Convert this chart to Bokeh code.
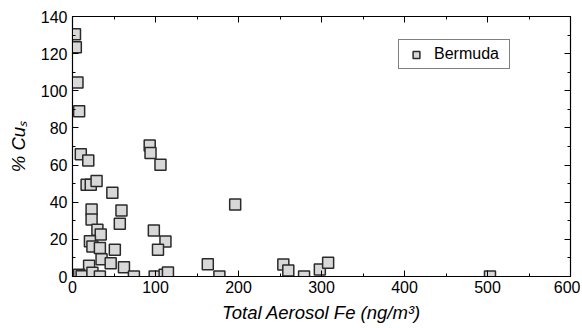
from bokeh.plotting import figure
from bokeh.models import LinearAxis, Range1d, Legend, LegendItem, ColumnDataSource, FixedTicker
from bokeh.embed import file_html
from bokeh.resources import INLINE

fe = [3, 4, 6, 8, 10, 19, 93, 94, 106, 17, 22, 29, 48, 23, 59, 23, 57, 30, 34,
      98, 112, 21, 24, 33, 51, 103, 35, 46, 20, 62, 2, 5, 8, 11, 24, 33, 74,
      99, 111, 115, 196, 163, 177, 254, 260, 279, 298, 308, 503]
cus = [130.5, 123.5, 104.5, 89, 65.8, 62.5, 70.5, 66.5, 60.2, 49.4, 49.4, 51.4,
       45.1, 36.1, 35.6, 30.7, 28.4, 25.2, 22.6, 24.8, 18.9, 19.0, 16.2, 15.3,
       14.4, 14.4, 9.3, 7.2, 5.8, 5.0, 0.3, 0.6, 1.0, 0.2, 2.0, 0.0, 0.0, 0.0,
       1.0, 2.2, 38.8, 6.6, 0.0, 6.5, 3.2, 0.0, 3.8, 7.4, 0.0]
series_name = "Bermuda"
x_ticks = [0, 100, 200, 300, 400, 500, 600]
x_minor = [50, 150, 250, 350, 450, 550]
y_ticks = [0, 20, 40, 60, 80, 100, 120, 140]
y_minor = [10, 30, 50, 70, 90, 110, 130]

FONT = "Liberation Sans"
FS = "16px"
LFS = "18.5px"

p = figure(frame_width=498, frame_height=260, output_backend="svg", toolbar_location=None,
           x_range=Range1d(0, 600), y_range=Range1d(0, 140),
           min_border_left=72, min_border_right=10, min_border_top=16, min_border_bottom=52)
p.background_fill_color = "white"
p.border_fill_color = "white"
p.outline_line_color = "black"
p.outline_line_width = 1.2
p.grid.visible = False

src = ColumnDataSource(dict(x=fe, y=cus))
r = p.scatter("x", "y", source=src, marker="square", size=11,
              fill_color="#d8d8d8", line_color="#2a2a2a", line_width=1.5)

xt = FixedTicker(ticks=x_ticks, minor_ticks=x_minor)
yt = FixedTicker(ticks=y_ticks, minor_ticks=y_minor)
p.xaxis[0].ticker = xt
p.yaxis[0].ticker = yt

for ax in (p.xaxis[0], p.yaxis[0]):
    ax.major_tick_in = 6
    ax.major_tick_out = 0
    ax.minor_tick_in = 3
    ax.minor_tick_out = 0
    ax.axis_line_color = "black"
    ax.major_tick_line_color = "black"
    ax.minor_tick_line_color = "black"
    ax.major_label_text_font = FONT
    ax.major_label_text_font_size = FS
    ax.major_label_text_color = "black"
    ax.axis_label_text_font = FONT
    ax.axis_label_text_font_size = LFS
    ax.axis_label_text_font_style = "italic"
    ax.axis_label_text_color = "black"

p.xaxis.axis_label = "Total Aerosol Fe (ng/m\u00b3)"
p.yaxis.axis_label = "% Cu\u209b"
p.xaxis.major_label_standoff = 4
p.xaxis.axis_label_standoff = 6
p.yaxis.major_label_standoff = 5
p.yaxis.axis_label_standoff = 9

top = LinearAxis(ticker=xt, major_label_text_color=None, major_tick_in=6,
                 major_tick_out=0, minor_tick_in=3, minor_tick_out=0,
                 major_label_standoff=0)
right = LinearAxis(ticker=yt, major_label_text_color=None, major_tick_in=6,
                   major_tick_out=0, minor_tick_in=3, minor_tick_out=0,
                   major_label_standoff=0)
p.add_layout(top, "above")
p.add_layout(right, "right")

legend = Legend(items=[LegendItem(label=series_name, renderers=[r])],
                location=(326, 207), orientation="vertical",
                label_text_font=FONT, label_text_font_size=FS,
                label_text_color="black",
                border_line_color="black", border_line_width=1,
                background_fill_alpha=1, padding=5, margin=0,
                glyph_width=24, glyph_height=17, label_standoff=6,
                label_height=17, spacing=0)
legend.label_width = 70
p.add_layout(legend, "center")

open("out.html", "w").write(file_html(p, INLINE))
